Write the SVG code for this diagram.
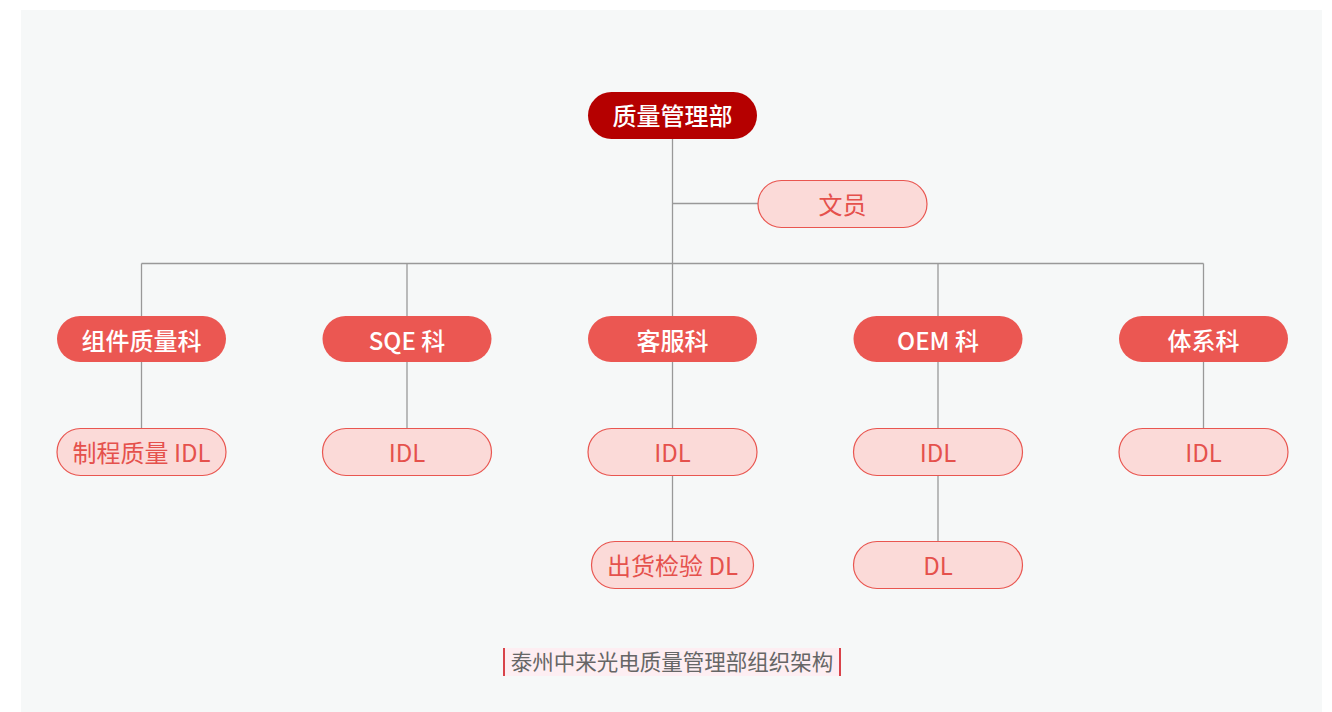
<svg xmlns="http://www.w3.org/2000/svg" width="1332" height="712" viewBox="0 0 1332 712">
<style>
text{font-family:"Noto Sans CJK SC","Noto Sans",sans-serif;text-anchor:middle}
.root rect{fill:#b50000}
.root text{fill:#fff;font-size:24px;font-weight:500}
.l2 rect{fill:#eb5752}
.l2 text{fill:#fff;font-size:24px;font-weight:500}
.lt rect{fill:#fbdad8;stroke:#e95650;stroke-width:1.2}
.lt text{fill:#e5514c;font-size:24px;font-weight:400}
.conn line{stroke:#999;stroke-width:1.3}
</style>
<rect x="21" y="10" width="1301" height="702" fill="#f6f8f8"/>
<g class="conn">
<line x1="672.5" y1="138" x2="672.5" y2="316"/>
<line x1="672.5" y1="203.5" x2="758" y2="203.5"/>
<line x1="141.5" y1="263.5" x2="1203.5" y2="263.5"/>
<line x1="141.5" y1="263.5" x2="141.5" y2="316"/>
<line x1="407" y1="263.5" x2="407" y2="316"/>
<line x1="938" y1="263.5" x2="938" y2="316"/>
<line x1="1203.5" y1="263.5" x2="1203.5" y2="316"/>
<line x1="141.5" y1="362" x2="141.5" y2="428"/>
<line x1="407" y1="362" x2="407" y2="428"/>
<line x1="672.5" y1="362" x2="672.5" y2="428"/>
<line x1="938" y1="362" x2="938" y2="428"/>
<line x1="1203.5" y1="362" x2="1203.5" y2="428"/>
<line x1="672.5" y1="476" x2="672.5" y2="542"/>
<line x1="938" y1="476" x2="938" y2="542"/>
</g>
<g id="root" class="root"><rect x="588" y="92" width="169" height="47" rx="23.5"/><text x="672.5" y="125">质量管理部</text></g>
<g id="clerk" class="lt"><rect x="758" y="180.5" width="169" height="47" rx="23.5"/><text x="842.5" y="213.5">文员</text></g>
<g id="zujian" class="l2"><rect x="57" y="316" width="169" height="46" rx="23"/><text x="141.5" y="349.5">组件质量科</text></g>
<g id="sqe" class="l2"><rect x="322.5" y="316" width="169" height="46" rx="23"/><text x="407" y="349.5">SQE 科</text></g>
<g id="kefu" class="l2"><rect x="588" y="316" width="169" height="46" rx="23"/><text x="672.5" y="349.5">客服科</text></g>
<g id="oem" class="l2"><rect x="853.5" y="316" width="169" height="46" rx="23"/><text x="938" y="349.5">OEM 科</text></g>
<g id="tixi" class="l2"><rect x="1119" y="316" width="169" height="46" rx="23"/><text x="1203.5" y="349.5">体系科</text></g>
<g id="zhicheng" class="lt"><rect x="57" y="428.5" width="169" height="47" rx="23.5"/><text x="141.5" y="461.5">制程质量 IDL</text></g>
<g id="sqe-idl" class="lt"><rect x="322.5" y="428.5" width="169" height="47" rx="23.5"/><text x="407" y="461.5">IDL</text></g>
<g id="kefu-idl" class="lt"><rect x="588" y="428.5" width="169" height="47" rx="23.5"/><text x="672.5" y="461.5">IDL</text></g>
<g id="oem-idl" class="lt"><rect x="853.5" y="428.5" width="169" height="47" rx="23.5"/><text x="938" y="461.5">IDL</text></g>
<g id="tixi-idl" class="lt"><rect x="1119" y="428.5" width="169" height="47" rx="23.5"/><text x="1203.5" y="461.5">IDL</text></g>
<g id="chuhuo" class="lt"><rect x="591.5" y="541.5" width="162" height="47" rx="23.5"/><text x="672.5" y="574.5">出货检验 DL</text></g>
<g id="oem-dl" class="lt"><rect x="853.5" y="541.5" width="169" height="47" rx="23.5"/><text x="938" y="574.5">DL</text></g>
<g id="caption">
<rect x="503" y="648" width="338" height="28" fill="#fdeef2"/>
<rect x="503" y="648" width="2" height="28" fill="#d9434a"/>
<rect x="839" y="648" width="2" height="28" fill="#d9434a"/>
<text x="672" y="670" style="font-size:21.5px;fill:#666">泰州中来光电质量管理部组织架构</text>
</g>
</svg>
